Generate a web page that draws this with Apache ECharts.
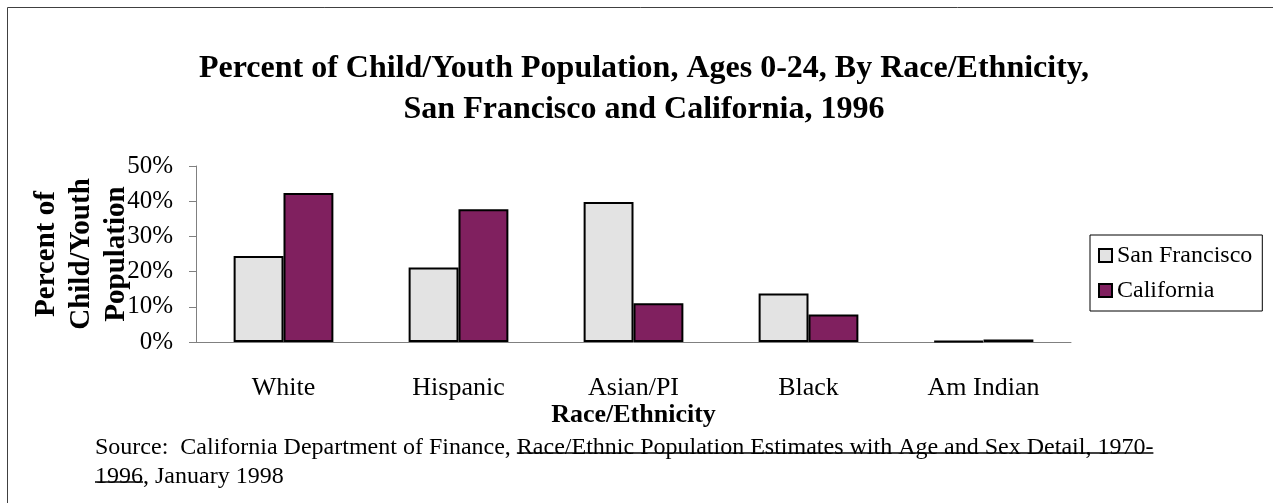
<!DOCTYPE html>
<html>
<head>
<meta charset="utf-8">
<script src="https://cdn.jsdelivr.net/npm/echarts@6/dist/echarts.min.js"></script>
<style>
  html, body { margin: 0; padding: 0; background: #fff; }
  #chart { width: 1273px; height: 503px; }
</style>
</head>
<body>
<div id="chart"></div>
<script>
// values, percent
const categories = ["White", "Hispanic", "Asian/PI", "Black", "Am Indian"];
const sanFrancisco = [24.4, 21.2, 39.8, 13.8, 0.3];
const california = [42.3, 37.7, 11.0, 7.8, 0.7];
const seriesNames = ["San Francisco", "California"];
const titleLines = [
    "Percent of Child/Youth Population, Ages 0-24, By Race/Ethnicity,",
    "San Francisco and California, 1996"
];
const sourceLine1 = ["Source:  California Department of Finance, ", "Race/Ethnic Population Estimates with Age and Sex Detail, 1970-"];
const sourceLine2 = ["1996", ", January 1998"];

const serif = '"Liberation Serif", "Times New Roman", serif';
const srcFont = '24px ' + serif;

const measure = document.createElement("canvas").getContext("2d");
function textWidth(str, font) {
    measure.font = font;
    return measure.measureText(str).width;
}

// source note: plain text followed by struck-through title of the report
function sourceGraphics() {
    const x0 = 95;
    const rows = [
        { y: 448, parts: sourceLine1, struck: 1 },
        { y: 477, parts: sourceLine2, struck: 0 }
    ];
    let out = [];
    rows.forEach(row => {
        let x = x0;
        row.parts.forEach((part, idx) => {
            const w = textWidth(part, srcFont);
            out.push({
                type: "text",
                style: { x: x, y: row.y, text: part, font: srcFont, fill: "#000", verticalAlign: "middle" }
            });
            if (idx === row.struck) {
                out.push({
                    type: "line",
                    shape: { x1: x, y1: row.y + 5, x2: x + w, y2: row.y + 5 },
                    style: { stroke: "#000", lineWidth: 1.3 }
                });
            }
            x += w;
        });
    });
    return out;
}

const chart = echarts.init(document.getElementById("chart"), null, { renderer: "canvas" });

const options = {
    animation: false,
    color: ["#E3E3E3", "#80205F"],
    title: {
        text: titleLines.join("\n"),
        left: 644,
        top: 48,
        padding: 0,
        textAlign: "center",
        textStyle: {
            fontFamily: serif,
            fontWeight: "bold",
            fontSize: 32,
            lineHeight: 41,
            color: "#000"
        }
    },
    legend: {
        orient: "vertical",
        left: 1090,
        top: 235,
        data: seriesNames,
        icon: "rect",
        itemWidth: 13,
        itemHeight: 13,
        itemGap: 8,
        padding: [7, 10, 7, 8],
        borderColor: "#000",
        borderWidth: 1,
        itemStyle: { borderColor: "#000", borderWidth: 2 },
        textStyle: { fontFamily: serif, fontSize: 24, lineHeight: 27, color: "#000" }
    },
    grid: {
        left: 196,
        right: 202,
        top: 166,
        bottom: 161,
        containLabel: false
    },
    xAxis: {
        type: "category",
        data: categories,
        name: "Race/Ethnicity",
        nameLocation: "middle",
        nameGap: 47,
        nameTextStyle: { fontFamily: serif, fontWeight: "bold", fontSize: 26, color: "#000" },
        axisLine: { lineStyle: { color: "#808080", width: 1 } },
        axisTick: { length: 8, lineStyle: { color: "#404040" } },
        axisLabel: { margin: 33, fontFamily: serif, fontSize: 26, color: "#000" }
    },
    yAxis: {
        type: "value",
        min: 0,
        max: 50,
        interval: 10,
        name: "Percent of\nChild/Youth\nPopulation",
        nameLocation: "middle",
        nameRotate: 90,
        nameGap: 62,
        nameMoveOverlap: false,
        nameTextStyle: { fontFamily: serif, fontWeight: "bold", fontSize: 29, lineHeight: 35, color: "#000" },
        axisLine: { show: true, lineStyle: { color: "#808080", width: 1 } },
        axisTick: { show: true, length: 7, lineStyle: { color: "#808080" } },
        axisLabel: { margin: 23, fontFamily: serif, fontSize: 25, color: "#000", formatter: "{value}%" },
        splitLine: { show: false }
    },
    series: [
        {
            name: seriesNames[0],
            type: "bar",
            data: sanFrancisco,
            barGap: "0%",
            barCategoryGap: "43%",
            itemStyle: { borderColor: "#000", borderWidth: 2 }
        },
        {
            name: seriesNames[1],
            type: "bar",
            data: california,
            barGap: "0%",
            barCategoryGap: "43%",
            itemStyle: { borderColor: "#000", borderWidth: 2 }
        }
    ],
    graphic: [
        {
            type: "rect",
            shape: { x: 7.5, y: 7.5, width: 1400, height: 700 },
            style: { fill: "none", stroke: "#404040", lineWidth: 1 },
            silent: true
        }
    ].concat(sourceGraphics())
};

chart.setOption(options);
window.addEventListener("resize", () => chart.resize(), false);
</script>
</body>
</html>
